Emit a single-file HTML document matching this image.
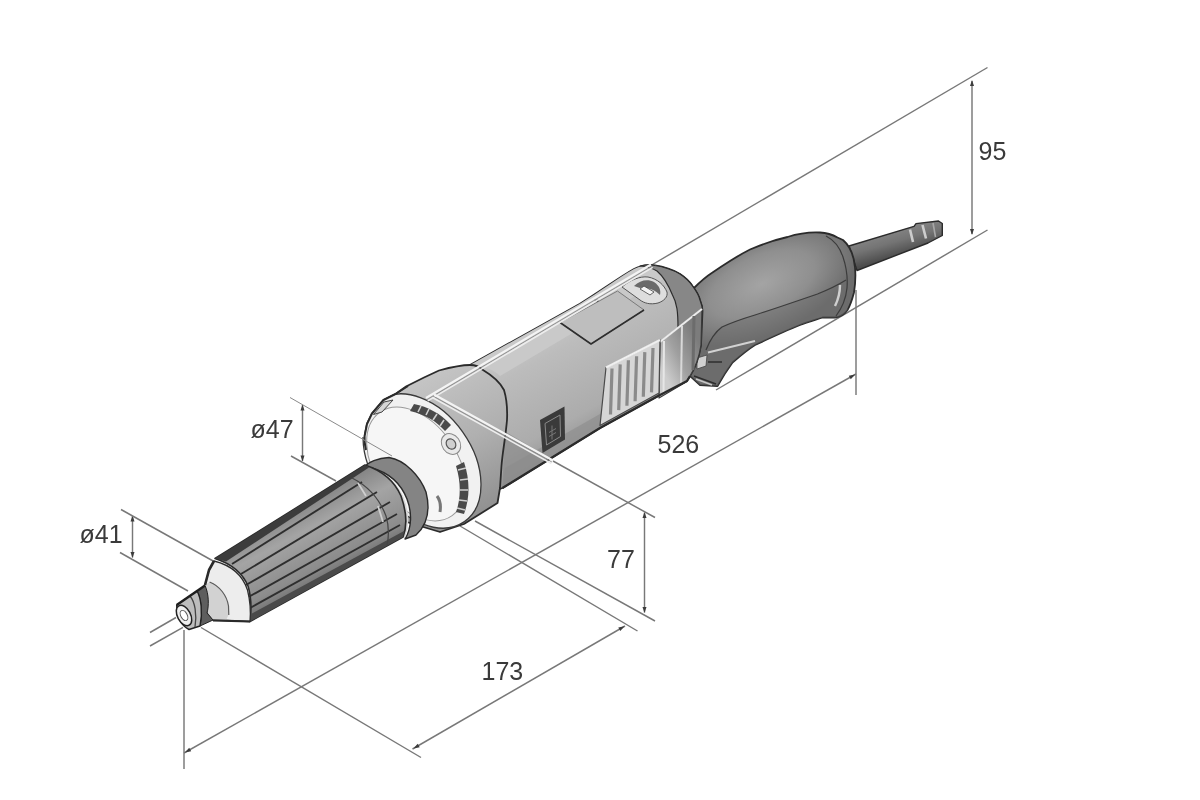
<!DOCTYPE html>
<html><head><meta charset="utf-8"><title>Dimensions</title>
<style>html,body{margin:0;padding:0;background:#fff}svg{display:block;filter:blur(0.65px)}</style></head>
<body><svg width="1200" height="800" viewBox="0 0 1200 800">
<defs>
<linearGradient id="gBody" gradientUnits="userSpaceOnUse" x1="540" y1="310" x2="610" y2="440">
<stop offset="0" stop-color="#cfcfcf"/><stop offset="0.3" stop-color="#bcbcbc"/><stop offset="0.75" stop-color="#acacac"/><stop offset="1" stop-color="#8c8c8c"/></linearGradient>
<linearGradient id="gShell" gradientUnits="userSpaceOnUse" x1="440" y1="370" x2="510" y2="500">
<stop offset="0" stop-color="#c4c4c4"/><stop offset="0.5" stop-color="#b0b0b0"/><stop offset="1" stop-color="#909090"/></linearGradient>
<radialGradient id="gHandle" gradientUnits="userSpaceOnUse" cx="0" cy="0" r="60" gradientTransform="translate(762 284) rotate(-24) scale(1.7 0.85)">
<stop offset="0" stop-color="#a4a4a4"/><stop offset="0.55" stop-color="#8f8f8f"/><stop offset="1" stop-color="#6c6c6c"/></radialGradient>
<linearGradient id="gCable" gradientUnits="userSpaceOnUse" x1="890" y1="228" x2="898" y2="256">
<stop offset="0" stop-color="#888"/><stop offset="0.5" stop-color="#747474"/><stop offset="1" stop-color="#4c4c4c"/></linearGradient>
<linearGradient id="gNeck" gradientUnits="userSpaceOnUse" x1="290" y1="505" x2="330" y2="580">
<stop offset="0" stop-color="#808080"/><stop offset="0.35" stop-color="#a4a4a4"/><stop offset="0.8" stop-color="#8c8c8c"/><stop offset="1" stop-color="#6e6e6e"/></linearGradient>
<linearGradient id="gSide" gradientUnits="userSpaceOnUse" x1="660" y1="365" x2="700" y2="345">
<stop offset="0" stop-color="#cdcdcd"/><stop offset="0.45" stop-color="#a0a0a0"/><stop offset="1" stop-color="#7c7c7c"/></linearGradient>
</defs>
<rect width="1200" height="800" fill="#fff"/>
<g id="dims">
<line x1="650" y1="266" x2="987.5" y2="67.5" stroke="#787878" stroke-width="1.45" />
<line x1="972" y1="81" x2="972" y2="234" stroke="#787878" stroke-width="1.45" />
<polygon points="972.0,80.0 974.0,86.0 970.0,86.0" fill="#3c3c3c"/>
<polygon points="972.0,235.0 970.0,229.0 974.0,229.0" fill="#3c3c3c"/>
<line x1="716" y1="390" x2="987.5" y2="230" stroke="#787878" stroke-width="1.45" />
<line x1="856" y1="290" x2="856" y2="395" stroke="#787878" stroke-width="1.45" />
<line x1="184" y1="753" x2="856" y2="374" stroke="#787878" stroke-width="1.45" />
<polygon points="185.0,752.5 189.2,747.8 191.2,751.3" fill="#3c3c3c"/>
<polygon points="855.0,374.5 850.8,379.2 848.8,375.7" fill="#3c3c3c"/>
<line x1="184" y1="630" x2="184" y2="769" stroke="#787878" stroke-width="1.45" />
<line x1="201" y1="627.5" x2="421" y2="757.5" stroke="#787878" stroke-width="1.45" />
<line x1="412.5" y1="749" x2="625" y2="626" stroke="#787878" stroke-width="1.45" />
<polygon points="413.5,748.5 417.7,743.8 419.7,747.2" fill="#3c3c3c"/>
<polygon points="624.5,626.3 620.3,631.0 618.3,627.6" fill="#3c3c3c"/>
<line x1="460" y1="526" x2="637.5" y2="631" stroke="#787878" stroke-width="1.45" />
<line x1="475" y1="521" x2="655" y2="621" stroke="#787878" stroke-width="1.45" />
<line x1="644.5" y1="512.5" x2="644.5" y2="612.5" stroke="#787878" stroke-width="1.45" />
<polygon points="644.5,512.0 646.5,518.0 642.5,518.0" fill="#3c3c3c"/>
<polygon points="644.5,613.0 642.5,607.0 646.5,607.0" fill="#3c3c3c"/>
<line x1="553" y1="461" x2="655" y2="517.5" stroke="#787878" stroke-width="1.45" />
<line x1="302.5" y1="405" x2="302.5" y2="461" stroke="#787878" stroke-width="1.45" />
<polygon points="302.5,404.5 304.5,410.5 300.5,410.5" fill="#3c3c3c"/>
<polygon points="302.5,461.5 300.5,455.5 304.5,455.5" fill="#3c3c3c"/>
<line x1="291" y1="456" x2="336" y2="481" stroke="#787878" stroke-width="1.45" />
<line x1="132.5" y1="516" x2="132.5" y2="557.5" stroke="#787878" stroke-width="1.45" />
<polygon points="132.5,515.5 134.5,521.5 130.5,521.5" fill="#3c3c3c"/>
<polygon points="132.5,558.0 130.5,552.0 134.5,552.0" fill="#3c3c3c"/>
<line x1="121" y1="509.5" x2="214" y2="561.5" stroke="#787878" stroke-width="1.45" />
<line x1="120" y1="552.5" x2="188" y2="591" stroke="#787878" stroke-width="1.45" />
<line x1="150" y1="632.5" x2="176" y2="617.5" stroke="#787878" stroke-width="1.45" />
<line x1="150" y1="646" x2="183" y2="627.3" stroke="#787878" stroke-width="1.45" />
</g>
<g id="tool">
<path d="M849 246 L914 226.3 L916 223.6 L938.5 221 L942.3 223.5 L942.3 235.5 L928 243 L857 270.5 Z" fill="url(#gCable)" stroke="#2b2b2b" stroke-width="1.4" stroke-linejoin="round" />
<path d="M910 229.5 L913 242 M922.5 225 L926 238.5" fill="none" stroke="#cdcdcd" stroke-width="2.6" stroke-linejoin="round" />
<path d="M933 223 L935.5 237" fill="none" stroke="#a8a8a8" stroke-width="1.6" stroke-linejoin="round" />
<path d="M694 288 C702 280 707 276 712.5 272.5 C725 264 738 255.5 750 249.5 C765 243 776 239.5 787.5 237 C800 233 810 232 820 232.5 C828 233 833 235 837.5 237.5 L843 240 C850 246 854 256 855 267.5 C856 277 855 286 854 292.5 C852 300 850 306 847.5 310 C844 315 840 317 835 317.5 L822.5 317.5 C815 320 808 322 800 325 C785 331 770 338 755 345 C747 350 740 356 732.5 362.5 C727 370 722 378 717.5 386 L700 385 L688 374 Z" fill="url(#gHandle)" stroke="#2b2b2b" stroke-width="1.8" stroke-linejoin="round" />
<path d="M706 350 C710 340 715 332 722 327 C735 321 745 318 755 315 C780 307 800 300 817.5 294 C830 289 838 285 846 280 L847.5 310 C844 315 840 317 835 317.5 L822.5 317.5 C815 320 808 322 800 325 C785 331 770 338 755 345 C747 350 740 356 732.5 362.5 C727 370 722 378 717.5 386 L700 385 L690 376 Z" fill="#6c6c6c" stroke="none" stroke-width="1" stroke-linejoin="round" opacity="0.5"/>
<path d="M706 350 C710 340 715 332 722 327 C735 321 745 318 755 315 C780 307 800 300 817.5 294 C830 289 838 285 846 280" fill="none" stroke="#3c3c3c" stroke-width="1.3" stroke-linejoin="round" />
<path d="M826 236 C834 240 840 248 843 257 C846 266 848 276 847 288 C846 298 842 308 836 316" fill="none" stroke="#3c3c3c" stroke-width="1.2" stroke-linejoin="round" />
<path d="M708 352.5 L755 341" fill="none" stroke="#d2d2d2" stroke-width="2" stroke-linejoin="round" />
<path d="M840 285 C840 293 838 300 835 306" fill="none" stroke="#cfcfcf" stroke-width="2.4" stroke-linejoin="round" />
<path d="M697 358 L707 355 L706 366 L697 369 Z" fill="#d0d0d0" stroke="#444" stroke-width="0.8" stroke-linejoin="round" />
<path d="M708 362 L722 362 M694 376 L716 384" fill="none" stroke="#2e2e2e" stroke-width="1.6" stroke-linejoin="round" />
<path d="M696 379 L712 385" fill="none" stroke="#c8c8c8" stroke-width="1.6" stroke-linejoin="round" />
<path d="M470 365 L580 303.7 C600 291.5 618 278 634 269 C642 265 649 264.8 655 265.5 C665 267 673 270 680 274 C686 278 690 282 692.5 286 C697 292 699 296 700 300 C702 305 702.5 308 702.5 311 L701 345 C699 358 695 368 690 376 L687 381 L659 395.5 L600 428 L502.5 488 L470 500 Z" fill="url(#gBody)" stroke="#2b2b2b" stroke-width="1.8" stroke-linejoin="round" />
<path d="M470 365 L580 303.7 C600 291.5 618 278 634 269 C642 265 649 264.8 655 265.5 C662 267 668 270 672 274 L500 376 C494 370 486 366 470 365 Z" fill="#c9c9c9" stroke="none" stroke-width="1" stroke-linejoin="round" />
<path d="M505 468 L600 414 L690 362 L690 376 L687 381 L659 395.5 L600 428 L502.5 488 Z" fill="#909090" stroke="none" stroke-width="1" stroke-linejoin="round" opacity="0.75"/>
<path d="M506 432 L549 457.5 L502.5 488 L504 440 Z" fill="#8c8c8c" stroke="none" stroke-width="1" stroke-linejoin="round" opacity="0.7"/>
<path d="M640 266 C646 264.5 650 264.5 655 265.5 C665 267 673 270 680 274 C686 278 690 282 692.5 286 C697 292 699 296 700 300 C702 305 702.5 308 702.5 311 L678 328 C678 312 677 303 672.5 295 C668 284 664 277 657 271 C652 268 646 266.5 640 266 Z" fill="#878787" stroke="#2b2b2b" stroke-width="1.2" stroke-linejoin="round" />
<path d="M660 342 L702 309 L701 345 C699 358 695 368 690 376 L686 382 L659 398 Z" fill="url(#gSide)" stroke="#3a3a3a" stroke-width="1.2" stroke-linejoin="round" />
<path d="M660 342 L702 309" fill="none" stroke="#ececec" stroke-width="2.2" stroke-linejoin="round" />
<path d="M664 341 L663.5 394" fill="none" stroke="#e6e6e6" stroke-width="2" stroke-linejoin="round" />
<path d="M682 326 L681 384" fill="none" stroke="#d8d8d8" stroke-width="2" stroke-linejoin="round" />
<path d="M694 316 L693 370" fill="none" stroke="#6c6c6c" stroke-width="3" stroke-linejoin="round" />
<path d="M606 367.5 L660 340 L659 393 L600 425.5 Z" fill="#d6d6d6" stroke="#4a4a4a" stroke-width="1.2" stroke-linejoin="round" />
<path d="M612.0 368.5 L610.5 414.5" fill="none" stroke="#8a8a8a" stroke-width="3.2" stroke-linejoin="round" />
<path d="M620.2 364.4 L618.7 410.1" fill="none" stroke="#8a8a8a" stroke-width="3.2" stroke-linejoin="round" />
<path d="M628.4 360.3 L626.9 405.7" fill="none" stroke="#8a8a8a" stroke-width="3.2" stroke-linejoin="round" />
<path d="M636.6 356.2 L635.1 401.2" fill="none" stroke="#8a8a8a" stroke-width="3.2" stroke-linejoin="round" />
<path d="M644.8 352.1 L643.3 396.8" fill="none" stroke="#8a8a8a" stroke-width="3.2" stroke-linejoin="round" />
<path d="M653.0 348.0 L651.5 392.4" fill="none" stroke="#8a8a8a" stroke-width="3.2" stroke-linejoin="round" />
<path d="M606 367.5 L660 340" fill="none" stroke="#f0f0f0" stroke-width="2" stroke-linejoin="round" />
<path d="M560 322.5 L617.5 291 L644 310 L591 344 Z" fill="#bebebe" stroke="#7a7a7a" stroke-width="1" stroke-linejoin="round" />
<path d="M644 310 L591 344 L560 322.5" fill="none" stroke="#2e2e2e" stroke-width="1.6" stroke-linejoin="round" />
<path d="M594 300 l5 -1 l-1 3 z" fill="#333" stroke="none" stroke-width="1" stroke-linejoin="round" />
<path d="M622 287 C630 280 640 276 648 277 C658 279 664 285 667 292 C668 297 664 301 658 303 C650 305 644 303 640 300 Z" fill="#dedede" stroke="#555" stroke-width="1" stroke-linejoin="round" />
<path d="M634 286 C640 280 648 279 654 282 C660 286 661 291 660 295 C655 290 648 287 640 288 Z" fill="#6a6a6a" stroke="none" stroke-width="1" stroke-linejoin="round" />
<path d="M640 289 L650 295 L654 292 L644 286 Z" fill="#f4f4f4" stroke="#444" stroke-width="0.8" stroke-linejoin="round" />
<path d="M540 420 L564.5 406.5 L565 439.5 L542.5 453 Z" fill="#3a3a3a" stroke="none" stroke-width="1" stroke-linejoin="round" />
<path d="M545 423.5 L560 415 L560.5 436.5 L546.5 445 Z" fill="none" stroke="#8a8a8a" stroke-width="1" stroke-linejoin="round" />
<path d="M549 432.5 l7 -4 M549 436.5 l7 -4 M552 425.5 l0 14" fill="none" stroke="#777" stroke-width="1" stroke-linejoin="round" />
<path d="M690 376 L687 381 L659 395.5 L600 428 L502.5 488" fill="none" stroke="#2b2b2b" stroke-width="2.2" stroke-linejoin="round" />
<path d="M366 447 C364 442 364.5 438 365 434 L367 424 L372 413.5 L383.5 400 L395.5 394 L406 386.5 L424 377.5 L439 370.5 C452 367 460 365 470 365 C476 365 480 367 483 370 C493 376 500 382 504 390 C507 400 507.5 410 507 420 C505.5 438 502.5 452 501.5 466 L500 488 L497.5 503 L464 524 L440 532 L400 520 Z" fill="url(#gShell)" stroke="#2b2b2b" stroke-width="1.8" stroke-linejoin="round" />
<clipPath id="cFace"><polygon points="364.2,437 366.5,424 371.5,413 383,399.5 395.5,393.5 410,392 600,370 600,600 300,600 300,437"/></clipPath>
<g clip-path="url(#cFace)">
<ellipse rx="74" ry="50" transform="translate(422 461) rotate(55)" fill="#f1f1f1" stroke="#3a3a3a" stroke-width="1.3" />
</g>
<ellipse rx="63" ry="41" transform="translate(416 464) rotate(55)" fill="#f6f6f6" stroke="#9a9a9a" stroke-width="1" />
<path d="M414 404 C428 407 440 413 451 425 L445 431 C436 421 426 415 410 411 Z" fill="#4a4a4a" stroke="none" stroke-width="1" stroke-linejoin="round" />
<path d="M421 406 l-3 6 M429 409 l-3 6 M437 414 l-4 6 M444 420 l-4 6" fill="none" stroke="#cfcfcf" stroke-width="1.6" stroke-linejoin="round" />
<path d="M464 462 C470 480 470 498 464 514 L456 512 C461 498 461 482 456 466 Z" fill="#4a4a4a" stroke="none" stroke-width="1" stroke-linejoin="round" />
<path d="M458 470 l8 -2 M460 480 l8 -1 M460 490 l8 0 M459 500 l8 1 M457 508 l8 2" fill="none" stroke="#cfcfcf" stroke-width="1.6" stroke-linejoin="round" />
<ellipse rx="11" ry="9" transform="translate(451 444) rotate(55)" fill="#e9e9e9" stroke="#8a8a8a" stroke-width="1" />
<ellipse rx="5.5" ry="4.5" transform="translate(451 444) rotate(55)" fill="#cfcfcf" stroke="#555" stroke-width="1.2" />
<path d="M437 496 C440 500 441 506 440 512" fill="none" stroke="#777" stroke-width="3" stroke-linejoin="round" />
<path d="M373.5 414.5 L384 402 L393 400 L382 412 Z" fill="#d6d6d6" stroke="#444" stroke-width="1" stroke-linejoin="round" />
<path d="M366 450 C364.5 444 364.2 440 364.6 436 L367 424 L372 413.5 L383.5 400 L395.5 394 L408 386" fill="none" stroke="#2b2b2b" stroke-width="2" stroke-linejoin="round" />
<path d="M364 467.5 C368 462 378 458 389 457.5 C405 460 420 476 426 492 C430 508 428 524 416 535 L405 539 C412 528 412 512 407 499 C401 484 390 473 372 468 Z" fill="#848484" stroke="#2b2b2b" stroke-width="1.4" stroke-linejoin="round" />
<path d="M365 469 C380 470 394 480 402 496 C408 510 409 525 404 538" fill="none" stroke="#d8d8d8" stroke-width="2" stroke-linejoin="round" />
<path d="M215 558.5 L365 465 C380 470 394 480 401 496 C406 510 408 524 403 537 L250 621.5 C252 606 251 596 248 586 C243 574 232 564 215 558.5 Z" fill="url(#gNeck)" stroke="#2b2b2b" stroke-width="1.6" stroke-linejoin="round" />
<path d="M215 558.5 L365 465 L369 467.5 L226 561.5 Z" fill="#3c3c3c" stroke="none" stroke-width="1" stroke-linejoin="round" />
<path d="M250 621.5 L403 537 L404 531 L251 614 Z" fill="#4a4a4a" stroke="none" stroke-width="1" stroke-linejoin="round" />
<path d="M232 564 L362 482" fill="none" stroke="#2e2e2e" stroke-width="1.9" stroke-linejoin="round" />
<path d="M241 574 L377 492" fill="none" stroke="#2e2e2e" stroke-width="1.9" stroke-linejoin="round" />
<path d="M246 585 L390 502" fill="none" stroke="#2e2e2e" stroke-width="1.9" stroke-linejoin="round" />
<path d="M248.5 597 L397 514" fill="none" stroke="#2e2e2e" stroke-width="1.9" stroke-linejoin="round" />
<path d="M250 608 L400 525" fill="none" stroke="#2e2e2e" stroke-width="1.9" stroke-linejoin="round" />
<path d="M358 483 L366 496 M378 506 L383 522" fill="none" stroke="#cfcfcf" stroke-width="1.8" stroke-linejoin="round" />
<path d="M352 478 C368 486 380 500 386 516 C389 526 389 536 387 545" fill="none" stroke="#444" stroke-width="1.2" stroke-linejoin="round" />
<path d="M214 561 C232 565.5 243 576 247.5 590 C250 600 251 610 250 621.5 L213 620 L207 612 C208 602 207 592 205 585 L209 570 Z" fill="#ededed" stroke="#2e2e2e" stroke-width="1.3" stroke-linejoin="round" />
<path d="M209.6 582 C220 586 227 596 228.5 606 L228.8 614 L226 620.5 L213 620 L207 612 C208 602 207 592 205 585 Z" fill="#d2d2d2" stroke="none" stroke-width="1" stroke-linejoin="round" />
<path d="M209.6 582 C220 586 227 596 228.5 606 L228.8 615" fill="none" stroke="#5a5a5a" stroke-width="1.2" stroke-linejoin="round" />
<path d="M214 561 L209 570 L205 585" fill="none" stroke="#2a2a2a" stroke-width="2.6" stroke-linejoin="round" />
<path d="M213 620.3 L250 621.5" fill="none" stroke="#2a2a2a" stroke-width="2.2" stroke-linejoin="round" />
<path d="M205 585.5 C209 594 209 606 207 613 L213 620 L200 626 C203 612 201 598 197 591 Z" fill="#5e5e5e" stroke="#222" stroke-width="1" stroke-linejoin="round" />
<path d="M176.7 605 L197 591 C201 598 203 612 200 626 L189 629.5 C181 626 176.7 616 176.7 605 Z" fill="#bdbdbd" stroke="#222" stroke-width="1.4" stroke-linejoin="round" />
<path d="M190 596 C195 602 197 614 195 627" fill="none" stroke="#444" stroke-width="1.3" stroke-linejoin="round" />
<path d="M176.7 605 L205 585.5" fill="none" stroke="#1e1e1e" stroke-width="2.4" stroke-linejoin="round" />
<ellipse rx="11" ry="6.5" transform="translate(184 615.5) rotate(62)" fill="#efefef" stroke="#222" stroke-width="1.5" />
<ellipse rx="5.5" ry="3.2" transform="translate(184 615.5) rotate(62)" fill="#fff" stroke="#555" stroke-width="1" />
</g>
<g id="overlay">
<line x1="426" y1="398" x2="651" y2="264.5" stroke="#f4f4f4" stroke-width="2.2" />
<line x1="426.9695202055722" y1="399.6340228183802" x2="651.9695202055723" y2="266.1340228183802" stroke="#8c8c8c" stroke-width="0.9" />
<line x1="427.7349308941819" y1="400.92404083289085" x2="652.734930894182" y2="267.42404083289085" stroke="#ededed" stroke-width="1.6" />
<line x1="434" y1="394.5" x2="553" y2="460.5" stroke="#f4f4f4" stroke-width="2.2" />
<line x1="433.07846417502157" y1="396.16155701776415" x2="552.0784641750215" y2="462.16155701776415" stroke="#8c8c8c" stroke-width="0.9" />
<line x1="432.35093589214387" y1="397.4733125581043" x2="551.3509358921439" y2="463.4733125581043" stroke="#ededed" stroke-width="1.6" />
<line x1="290" y1="397.5" x2="392" y2="456" stroke="#8a8a8a" stroke-width="1" />
</g>
<g font-family="Liberation Sans, Arial, sans-serif" fill="#3a3a3a">
<text x="978.5" y="159.5" font-size="25">95</text>
<text x="657.5" y="453" font-size="25">526</text>
<text x="607" y="567.5" font-size="25">77</text>
<text x="481.5" y="680" font-size="25">173</text>
<text x="250.5" y="437.8" font-size="25">ø47</text>
<text x="79.5" y="543.2" font-size="25">ø41</text>
</g>
</svg></body></html>
